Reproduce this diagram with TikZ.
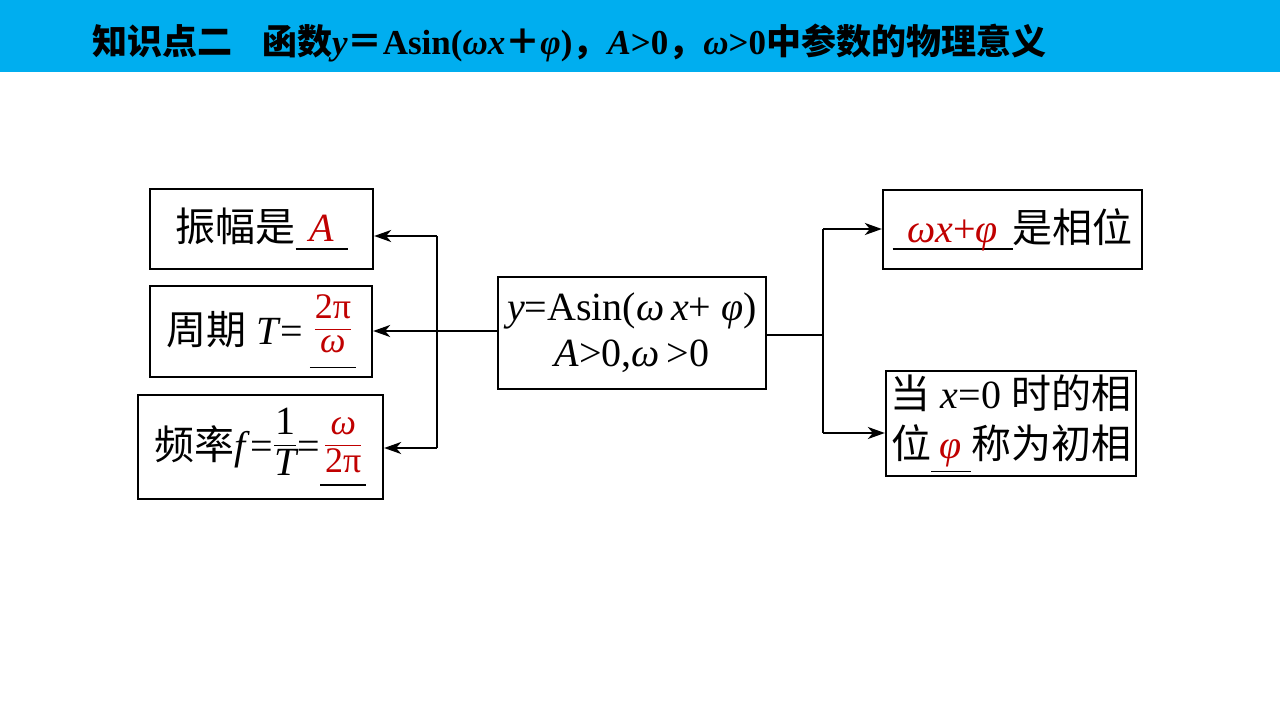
\documentclass[tikz,border=0pt]{standalone}
\usepackage{fontspec}
\usepackage{amsmath}
\setmainfont{Liberation Serif}
\newfontfamily\cjk{Noto Sans CJK SC}
\usetikzlibrary{arrows.meta}
\definecolor{barblue}{HTML}{00AEEF}
\definecolor{ans}{HTML}{C00000}
\newcommand\smallfr[2]{\ensuremath{\dfrac{\mbox{\fontsize{36}{36}\selectfont #1}}{\mbox{\fontsize{36}{36}\selectfont #2}}}}
% \blank{depth}{width}{content}: content centred over a black blank line
\newcommand\blank[3]{\leavevmode\rlap{\rule[-#1]{#2}{1.8pt}}\makebox[#2]{#3}}
\begin{document}
\begin{tikzpicture}[x=1pt,y=-1pt,
  box/.style={draw, line width=2.3pt, inner sep=0pt, font=\fontsize{40}{46}\selectfont, align=center},
  conn/.style={line width=2.2pt},
  arr/.style={line width=2.2pt, -{Stealth[length=17pt,width=12pt,inset=5pt]}}]
\useasboundingbox (0,0) rectangle (1280,720);
\fill[barblue] (0,0) rectangle (1280,72);
\node[anchor=west, inner sep=0pt, font=\fontsize{35}{35}\selectfont\bfseries] (title) at (92,43)
  {{\cjk 知识点二}\hspace{30pt}{\cjk 函数}\textit{y}{\cjk ＝}Asin(\textit{ωx}{\cjk ＋}\textit{φ}){\cjk ，}\textit{A}>0{\cjk ，}\textit{ω}>0{\cjk 中参数的物理意义}};

\node[box, minimum width=223pt, minimum height=80pt] (b1) at (261.5,229)
  {{\cjk 振幅是}\blank{8pt}{1.3em}{\color{ans}\itshape A}};
\node[box, minimum width=222pt, minimum height=91pt] (b2) at (261,331.5)
  {{\cjk 周期} \textit{T}=\,\raisebox{9pt}{\blank{33pt}{1.15em}{\textcolor{ans}{\smallfr{2π}{\itshape ω}}}}};
\node[box, minimum width=245pt, minimum height=104pt] (b3) at (260.5,447)
  {{\cjk 频率}\textit{f}=\raisebox{8pt}{$\dfrac{\mbox{1}}{\mbox{\itshape T}}$}=\raisebox{8pt}{\blank{34pt}{1.15em}{\textcolor{ans}{\smallfr{\itshape ω}{2π}}}}};
\node[box, minimum width=268pt, minimum height=112pt] (c) at (632,333)
  {\textit{y}=Asin(\textit{ω\,x}+ \textit{φ})\\\textit{A}>0,\textit{ω}\,>0};
\node[box, minimum width=259pt, minimum height=79pt] (r1) at (1012.5,229.5)
  {\blank{8pt}{3.0em}{\color{ans}\itshape ωx{\upshape +}φ}{\cjk 是相位}};
\node[box, minimum width=250pt, minimum height=105pt, font=\fontsize{40}{50}\selectfont] (r2) at (1011,423.5)
  {{\cjk 当} \textit{x}=0 {\cjk 时的相}\\{\cjk 位}\blank{14pt}{1em}{\color{ans}\itshape φ}{\cjk 称为初相}};

\coordinate (jl) at (437,331);
\coordinate (jt) at (437,236);
\coordinate (jb) at (437,448);
\draw[conn] (c.west |- jl) -- (jl);
\draw[conn] (jt) -- (jb);
\draw[arr] (jt) -- (b1.east |- jt);
\draw[arr] (jl) -- (b2.east |- jl);
\draw[arr] (jb) -- (b3.east |- jb);

\coordinate (jr) at (823,335);
\coordinate (jrt) at (823,229);
\coordinate (jrb) at (823,433);
\draw[conn] (c.east |- jr) -- (jr);
\draw[conn] (jrt) -- (jrb);
\draw[arr] (jrt) -- (r1.west |- jrt);
\draw[arr] (jrb) -- (r2.west |- jrb);
\end{tikzpicture}
\end{document}
